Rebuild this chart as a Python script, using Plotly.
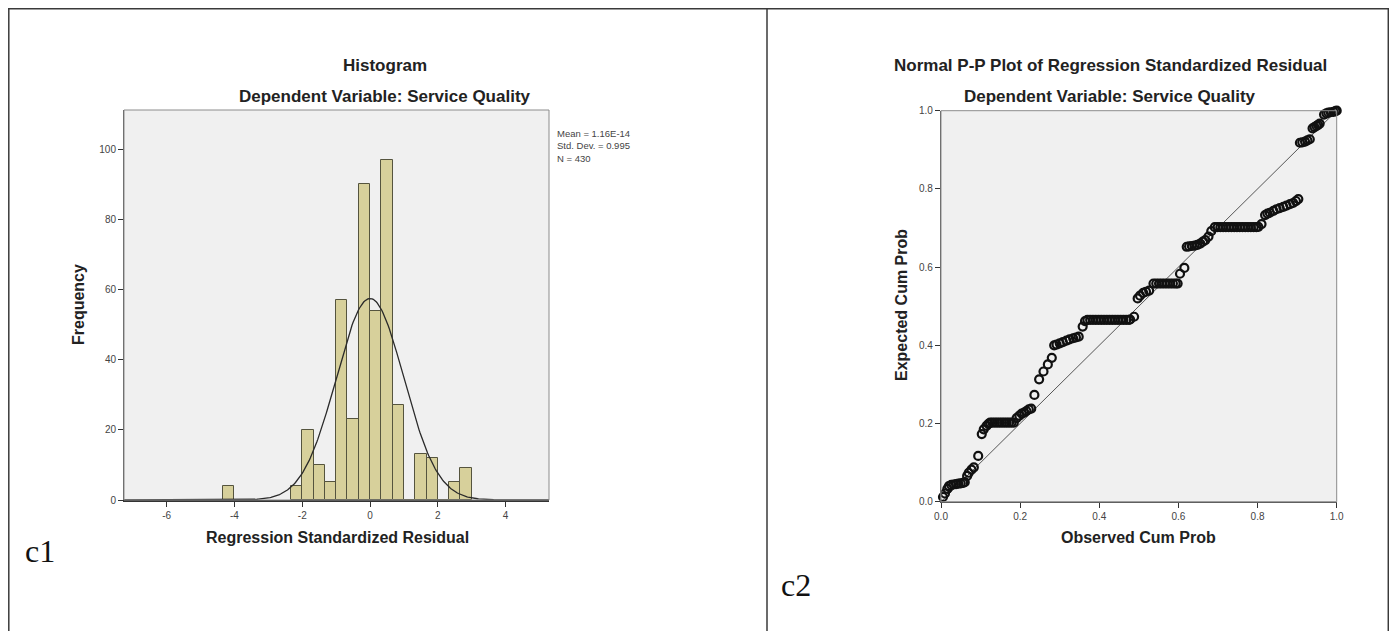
import numpy as np
import plotly.graph_objects as go

# Page has an 8px body margin; size the figure so the page fits the 1397x639 window exactly.
VIEW_W, VIEW_H = 1397, 639
OFF = 8
W, H = VIEW_W - 2 * OFF, VIEW_H - 2 * OFF

# ---------------- Data: histogram ----------------
bin_width = 1.0 / 3.0
bin_lo = [-13/3, -7/3, -2.0, -5/3, -4/3, -1.0, -2/3, -1/3, 0.0, 1/3, 2/3, 1.0, 4/3, 5/3, 2.0, 7/3, 8/3]
counts = [4, 4, 20, 10, 5, 57, 23, 90, 54, 97, 27, 0, 13, 12, 0, 5, 9]
res_mean = 1.16e-14
res_sd = 0.995
res_n = 430
hist_xticks = [-6, -4, -2, 0, 2, 4]
hist_yticks = [0, 20, 40, 60, 80, 100]

# ---------------- Data: P-P plot ----------------
obs_cum = [0.005, 0.010, 0.016, 0.020, 0.026, 0.032, 0.038, 0.044, 0.050, 0.056, 0.060,
           0.066, 0.070, 0.077, 0.083, 0.094, 0.103, 0.108, 0.115, 0.120,
           0.124, 0.130, 0.136, 0.142, 0.148, 0.154, 0.160, 0.166, 0.172, 0.178, 0.184,
           0.191, 0.198, 0.204, 0.210, 0.216, 0.222, 0.228,
           0.236, 0.248, 0.259, 0.270, 0.280,
           0.286, 0.292, 0.300, 0.308, 0.317, 0.325, 0.334, 0.341, 0.348,
           0.358, 0.364, 0.370, 0.377, 0.384, 0.391, 0.398, 0.405, 0.412, 0.419, 0.426,
           0.433, 0.440, 0.447, 0.454, 0.461, 0.468, 0.475, 0.478,
           0.488, 0.497, 0.503, 0.511, 0.518, 0.526,
           0.537, 0.544, 0.551, 0.558, 0.565, 0.572, 0.579, 0.586, 0.593, 0.598,
           0.604, 0.615,
           0.621, 0.627, 0.634, 0.641, 0.648, 0.655, 0.662, 0.668, 0.676, 0.683,
           0.692, 0.699, 0.706, 0.713, 0.720, 0.727, 0.734, 0.741, 0.748, 0.755,
           0.762, 0.769, 0.776, 0.783, 0.790, 0.797, 0.802,
           0.810, 0.819, 0.825, 0.831, 0.840, 0.848, 0.856, 0.865, 0.873, 0.882, 0.890, 0.897, 0.903,
           0.907, 0.913, 0.920, 0.926, 0.932,
           0.939, 0.944, 0.949, 0.953, 0.957,
           0.968, 0.974, 0.979, 0.985, 0.992, 0.997, 1.000]
exp_cum = [0.012, 0.021, 0.033, 0.040, 0.043, 0.044, 0.045, 0.046, 0.047, 0.048, 0.050,
           0.066, 0.074, 0.082, 0.088, 0.117, 0.173, 0.185, 0.194, 0.199,
           0.202, 0.202, 0.202, 0.202, 0.202, 0.202, 0.202, 0.202, 0.202, 0.202, 0.202,
           0.214, 0.220, 0.225, 0.228, 0.232, 0.236, 0.238,
           0.273, 0.313, 0.333, 0.351, 0.368,
           0.400, 0.402, 0.405, 0.408, 0.412, 0.415, 0.418, 0.420, 0.422,
           0.448, 0.462, 0.465, 0.465, 0.465, 0.465, 0.465, 0.465, 0.465, 0.465, 0.465,
           0.465, 0.465, 0.465, 0.465, 0.465, 0.465, 0.465, 0.466,
           0.473, 0.520, 0.527, 0.534, 0.537, 0.540,
           0.558, 0.558, 0.558, 0.558, 0.558, 0.558, 0.558, 0.558, 0.558, 0.558,
           0.583, 0.598,
           0.652, 0.653, 0.654, 0.655, 0.657, 0.660, 0.665, 0.669, 0.678, 0.692,
           0.702, 0.702, 0.702, 0.702, 0.702, 0.702, 0.702, 0.702, 0.702, 0.702,
           0.702, 0.702, 0.702, 0.702, 0.702, 0.702, 0.703,
           0.710, 0.733, 0.737, 0.739, 0.744, 0.748, 0.751, 0.754, 0.757, 0.761, 0.764, 0.769, 0.774,
           0.918, 0.919, 0.921, 0.924, 0.927,
           0.955, 0.958, 0.961, 0.964, 0.967,
           0.990, 0.993, 0.995, 0.996, 0.997, 0.999, 1.000]
pp_ticks = [0.0, 0.2, 0.4, 0.6, 0.8, 1.0]

# ---------------- Helpers (window pixel -> paper fraction) ----------------
def px(x):
    return (x - OFF) / W

def py(y):
    return 1 - (y - OFF) / H

FONT = "Liberation Sans, Arial, sans-serif"
SERIF = "Liberation Serif, Times New Roman, serif"

fig = go.Figure()

# Histogram bars
centers = [b + bin_width / 2 for b in bin_lo]
fig.add_trace(go.Bar(
    x=centers, y=counts, width=bin_width,
    marker=dict(color="#D7D09B", line=dict(color="#55543e", width=1)),
    xaxis="x", yaxis="y", showlegend=False, hoverinfo="skip"))

# Normal curve from the displayed mean / sd / N
hx_range = [-7.26, 5.28]
cx = np.linspace(hx_range[0], hx_range[1], 400)
cy = res_n * bin_width / (res_sd * np.sqrt(2 * np.pi)) * np.exp(-0.5 * ((cx - res_mean) / res_sd) ** 2)
fig.add_trace(go.Scatter(x=cx, y=cy, mode="lines", line=dict(color="#2a2a2a", width=1.3),
                         xaxis="x", yaxis="y", showlegend=False, hoverinfo="skip"))

# P-P diagonal
fig.add_trace(go.Scatter(x=[0, 1], y=[0, 1], mode="lines", line=dict(color="#555555", width=1),
                         xaxis="x2", yaxis="y2", showlegend=False, hoverinfo="skip"))
# P-P points
fig.add_trace(go.Scatter(x=obs_cum, y=exp_cum, mode="markers",
                         marker=dict(symbol="circle-open", size=8, color="#111111",
                                     line=dict(width=2.2, color="#111111")),
                         xaxis="x2", yaxis="y2", showlegend=False, hoverinfo="skip", cliponaxis=False))

tickfont = dict(family=FONT, size=10, color="#444444")

h_left, h_right, h_top, h_bot = 124, 549, 110, 500
p_left, p_right, p_top, p_bot = 941, 1336.7, 110.7, 501.7

common_tick = dict(ticks="outside", ticklen=5, tickcolor="#333333", tickwidth=1,
                   showgrid=False, zeroline=False, tickfont=tickfont, fixedrange=True,
                   tickmode="array", automargin=False)

fig.update_layout(
    width=W, height=H,
    margin=dict(l=0, r=0, t=0, b=0),
    paper_bgcolor="white",
    plot_bgcolor="#F0F0F0",
    showlegend=False,
    bargap=0,
    xaxis=dict(domain=[px(h_left), px(h_right)], anchor="y", range=hx_range,
               tickvals=hist_xticks, ticktext=[str(v) for v in hist_xticks],
               showline=True, linecolor="#333333", linewidth=1.5, **common_tick),
    yaxis=dict(domain=[py(h_bot), py(h_top)], anchor="x", range=[0, 111.2],
               tickvals=hist_yticks, ticktext=[str(v) for v in hist_yticks],
               showline=True, linecolor="#555555", linewidth=1, **common_tick),
    xaxis2=dict(domain=[px(p_left), px(p_right)], anchor="y2", range=[0, 1],
                tickvals=pp_ticks, ticktext=[f"{v:.1f}" for v in pp_ticks],
                showline=True, linecolor="#555555", linewidth=1.2, **common_tick),
    yaxis2=dict(domain=[py(p_bot), py(p_top)], anchor="x2", range=[0, 1],
                tickvals=pp_ticks, ticktext=[f"{v:.1f}" for v in pp_ticks],
                showline=True, linecolor="#555555", linewidth=1.2, **common_tick),
)

shapes = []
# plot frames
for (l, r, t, b) in [(h_left, h_right, h_top, h_bot), (p_left, p_right, p_top, p_bot)]:
    shapes.append(dict(type="rect", xref="paper", yref="paper", x0=px(l), x1=px(r), y0=py(b), y1=py(t),
                       line=dict(color="#8c8c8c", width=1), fillcolor="rgba(0,0,0,0)", layer="above"))
# outer table borders
bc = dict(color="#3a3a3a", width=1.5)
top_y = py(8.8)
shapes.append(dict(type="line", xref="paper", yref="paper", x0=px(8), x1=1, y0=top_y, y1=top_y, line=bc))
shapes.append(dict(type="line", xref="paper", yref="paper", x0=px(8.8), x1=px(8.8), y0=top_y, y1=0, line=bc))
shapes.append(dict(type="line", xref="paper", yref="paper", x0=px(767), x1=px(767), y0=top_y, y1=0, line=bc))
shapes.append(dict(type="line", xref="paper", yref="paper", x0=px(1388.3), x1=px(1388.3), y0=top_y, y1=0, line=bc))
fig.update_layout(shapes=shapes)

def ann(text, x, y, size=16, bold=True, color="#222222", angle=0, xanchor="center", family=FONT, align="center"):
    t = f"<b>{text}</b>" if bold else text
    return dict(text=t, x=px(x), y=py(y), xref="paper", yref="paper", showarrow=False,
                xanchor=xanchor, yanchor="middle", textangle=angle, align=align,
                font=dict(family=family, size=size, color=color))

stats_text = f"Mean = 1.16E-14<br>Std. Dev. = {res_sd:.3f}<br>N = {res_n}"

annotations = [
    ann("Histogram", 385, 66, size=17),
    ann("Dependent Variable: Service Quality", 385, 97, size=17),
    ann("Regression Standardized Residual", 337, 537),
    ann("Frequency", 78, 305, angle=-90),
    ann(stats_text, 555, 146, size=9.5, bold=False, color="#444444", xanchor="left", align="left"),
    ann("Normal P-P Plot of Regression Standardized Residual", 1110, 66, size=17),
    ann("Dependent Variable: Service Quality", 1110, 97, size=17),
    ann("Observed Cum Prob", 1138, 537),
    ann("Expected Cum Prob", 901, 305, angle=-90),
    ann("c1", 23, 551, size=32, bold=False, color="#111111", xanchor="left", family=SERIF),
    ann("c2", 779, 585, size=32, bold=False, color="#111111", xanchor="left", family=SERIF),
]
fig.update_layout(annotations=annotations)

fig.write_html("out.html")
